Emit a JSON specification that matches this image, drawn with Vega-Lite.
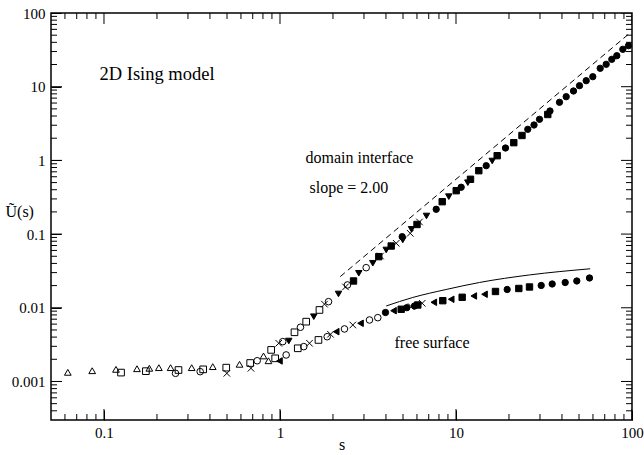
{
  "$schema": "https://vega.github.io/schema/vega-lite/v6.json",
  "width": 581,
  "height": 407,
  "autosize": {"type": "none"},
  "padding": {"left": 51, "top": 13, "right": 12, "bottom": 35},
  "background": "white",
  "config": {
    "view": {"stroke": "black", "strokeWidth": 1.5, "fill": null},
    "font": "Liberation Serif",
    "axis": {
      "zindex": 1,
      "grid": false,
      "domain": false,
      "labelFont": "Liberation Serif",
      "labelFontSize": 15,
      "labelColor": "black",
      "titleFont": "Liberation Serif",
      "titleFontWeight": "normal",
      "titleFontSize": 16,
      "titleColor": "black",
      "labelOverlap": false,
      "labelFlush": false
    }
  },
  "datasets": {
    "points": [
      {"set": "a", "s": 0.0623, "U": 0.00133}, {"set": "a", "s": 0.0857, "U": 0.0014}, {"set": "a", "s": 0.117, "U": 0.00146},
      {"set": "a", "s": 0.154, "U": 0.00149}, {"set": "a", "s": 0.181, "U": 0.00151}, {"set": "a", "s": 0.205, "U": 0.00154},
      {"set": "a", "s": 0.239, "U": 0.00154}, {"set": "a", "s": 0.315, "U": 0.00154}, {"set": "a", "s": 0.415, "U": 0.00159},
      {"set": "a", "s": 0.589, "U": 0.00171}, {"set": "a", "s": 0.806, "U": 0.00222}, {"set": "a", "s": 0.86, "U": 0.00191},

      {"set": "b", "s": 0.125, "U": 0.00132}, {"set": "b", "s": 0.173, "U": 0.00138}, {"set": "b", "s": 0.265, "U": 0.00143},
      {"set": "b", "s": 0.366, "U": 0.00146}, {"set": "b", "s": 0.495, "U": 0.00154}, {"set": "b", "s": 0.677, "U": 0.00178},
      {"set": "b", "s": 0.891, "U": 0.00268}, {"set": "b", "s": 0.939, "U": 0.00206}, {"set": "b", "s": 1.209, "U": 0.00465},
      {"set": "b", "s": 1.262, "U": 0.00282}, {"set": "b", "s": 1.409, "U": 0.00648}, {"set": "b", "s": 1.654, "U": 0.00366},
      {"set": "b", "s": 1.676, "U": 0.00934},

      {"set": "c", "s": 0.255, "U": 0.00129}, {"set": "c", "s": 0.352, "U": 0.00136}, {"set": "c", "s": 0.742, "U": 0.00191},
      {"set": "c", "s": 1.037, "U": 0.00347}, {"set": "c", "s": 1.084, "U": 0.00229}, {"set": "c", "s": 1.307, "U": 0.00544},
      {"set": "c", "s": 1.365, "U": 0.00297}, {"set": "c", "s": 1.854, "U": 0.00405}, {"set": "c", "s": 1.887, "U": 0.0121},
      {"set": "c", "s": 2.325, "U": 0.00516}, {"set": "c", "s": 2.418, "U": 0.0204}, {"set": "c", "s": 3.088, "U": 0.035},
      {"set": "c", "s": 3.225, "U": 0.00683}, {"set": "c", "s": 3.595, "U": 0.00734},

      {"set": "d", "s": 0.499, "U": 0.00129}, {"set": "d", "s": 0.684, "U": 0.00151}, {"set": "d", "s": 0.984, "U": 0.0033},
      {"set": "d", "s": 1.471, "U": 0.0033}, {"set": "d", "s": 1.79, "U": 0.0112}, {"set": "d", "s": 1.936, "U": 0.00437},
      {"set": "d", "s": 2.356, "U": 0.0192}, {"set": "d", "s": 2.593, "U": 0.00584}, {"set": "d", "s": 3.724, "U": 0.0504},
      {"set": "d", "s": 4.574, "U": 0.075}, {"set": "d", "s": 5.494, "U": 0.1025}, {"set": "d", "s": 6.203, "U": 0.146},
      {"set": "d", "s": 5.566, "U": 0.01035}, {"set": "d", "s": 6.426, "U": 0.01151},

      {"set": "e", "s": 0.993, "U": 0.0019}, {"set": "e", "s": 2.086, "U": 0.00474}, {"set": "e", "s": 2.867, "U": 0.00616},
      {"set": "e", "s": 4.415, "U": 0.00913}, {"set": "e", "s": 7.479, "U": 0.01187}, {"set": "e", "s": 9.392, "U": 0.01304},
      {"set": "e", "s": 12.62, "U": 0.01446}, {"set": "e", "s": 14.52, "U": 0.01525},

      {"set": "f", "s": 1.122, "U": 0.00354}, {"set": "f", "s": 1.556, "U": 0.00757}, {"set": "f", "s": 2.15, "U": 0.0154},
      {"set": "f", "s": 2.804, "U": 0.0294}, {"set": "f", "s": 3.368, "U": 0.0402}, {"set": "f", "s": 4.013, "U": 0.0609},
      {"set": "f", "s": 4.985, "U": 0.0832}, {"set": "f", "s": 5.588, "U": 0.116}, {"set": "f", "s": 6.797, "U": 0.176},
      {"set": "f", "s": 9.102, "U": 0.322}, {"set": "f", "s": 11.67, "U": 0.498}, {"set": "f", "s": 16.06, "U": 0.981},

      {"set": "g", "s": 2.617, "U": 0.0231}, {"set": "g", "s": 3.642, "U": 0.0494}, {"set": "g", "s": 4.284, "U": 0.0689},
      {"set": "g", "s": 6.004, "U": 0.135}, {"set": "g", "s": 8.35, "U": 0.275}, {"set": "g", "s": 10.03, "U": 0.388},
      {"set": "g", "s": 12.09, "U": 0.554}, {"set": "g", "s": 13.48, "U": 0.725}, {"set": "g", "s": 17.14, "U": 1.158},
      {"set": "g", "s": 21.3, "U": 1.739}, {"set": "g", "s": 23.71, "U": 2.177}, {"set": "g", "s": 33.23, "U": 4.196},
      {"set": "g", "s": 4.882, "U": 0.00954}, {"set": "g", "s": 6.067, "U": 0.01091}, {"set": "g", "s": 8.414, "U": 0.01248},
      {"set": "g", "s": 10.84, "U": 0.01388}, {"set": "g", "s": 16.76, "U": 0.01664}, {"set": "g", "s": 22.75, "U": 0.01827},
      {"set": "g", "s": 26.16, "U": 0.01915},

      {"set": "h", "s": 4.946, "U": 0.0922}, {"set": "h", "s": 7.718, "U": 0.217}, {"set": "h", "s": 10.7, "U": 0.432},
      {"set": "h", "s": 14.85, "U": 0.847}, {"set": "h", "s": 19.11, "U": 1.473}, {"set": "h", "s": 25.58, "U": 2.642},
      {"set": "h", "s": 27.75, "U": 3.022}, {"set": "h", "s": 29.82, "U": 3.611}, {"set": "h", "s": 34.2, "U": 4.681},
      {"set": "h", "s": 38.73, "U": 6.142}, {"set": "h", "s": 42.28, "U": 7.315}, {"set": "h", "s": 46.52, "U": 8.745},
      {"set": "h", "s": 50.31, "U": 10.32}, {"set": "h", "s": 54.93, "U": 12.06}, {"set": "h", "s": 59.88, "U": 13.67},
      {"set": "h", "s": 65.96, "U": 17.77}, {"set": "h", "s": 71.35, "U": 20.13}, {"set": "h", "s": 76.77, "U": 23.53},
      {"set": "h", "s": 81.97, "U": 26.33}, {"set": "h", "s": 88.68, "U": 32.17}, {"set": "h", "s": 95.52, "U": 36.0},
      {"set": "h", "s": 3.976, "U": 0.00863}, {"set": "h", "s": 5.255, "U": 0.01003}, {"set": "h", "s": 5.811, "U": 0.01058},
      {"set": "h", "s": 19.54, "U": 0.01771}, {"set": "h", "s": 30.49, "U": 0.02007}, {"set": "h", "s": 35.2, "U": 0.02103},
      {"set": "h", "s": 41.73, "U": 0.02204}, {"set": "h", "s": 48.58, "U": 0.0231}, {"set": "h", "s": 57.35, "U": 0.02537}
    ],
    "slope2": [
      {"s": 2.2, "U": 0.0265},
      {"s": 95, "U": 51}
    ],
    "surfaceFit": [
      {"s": 4.013, "U": 0.01058}, {"s": 5.683, "U": 0.0138}, {"s": 8.797, "U": 0.01771},
      {"s": 13.6, "U": 0.02204}, {"s": 26.16, "U": 0.0279}, {"s": 57.88, "U": 0.0338}
    ],
    "notes": [
      {"s": 0.0943, "U": 12.33, "text": "2D Ising model", "size": 18.5},
      {"s": 1.396, "U": 0.922, "text": "domain interface", "size": 16},
      {"s": 1.471, "U": 0.361, "text": "slope = 2.00", "size": 16},
      {"s": 4.473, "U": 0.002847, "text": "free surface", "size": 16}
    ],
    "sMajor": [{"s": 0.1}, {"s": 1}, {"s": 10}, {"s": 100}],
    "sMinor": [
      {"s": 0.06}, {"s": 0.07}, {"s": 0.08}, {"s": 0.09},
      {"s": 0.2}, {"s": 0.3}, {"s": 0.4}, {"s": 0.5}, {"s": 0.6}, {"s": 0.7}, {"s": 0.8}, {"s": 0.9},
      {"s": 2}, {"s": 3}, {"s": 4}, {"s": 5}, {"s": 6}, {"s": 7}, {"s": 8}, {"s": 9},
      {"s": 20}, {"s": 30}, {"s": 40}, {"s": 50}, {"s": 60}, {"s": 70}, {"s": 80}, {"s": 90}
    ],
    "uMajor": [{"U": 0.001}, {"U": 0.01}, {"U": 0.1}, {"U": 1}, {"U": 10}, {"U": 100}],
    "uMinor": [
      {"U": 0.0004}, {"U": 0.0005}, {"U": 0.0006}, {"U": 0.0007}, {"U": 0.0008}, {"U": 0.0009},
      {"U": 0.002}, {"U": 0.003}, {"U": 0.004}, {"U": 0.005}, {"U": 0.006}, {"U": 0.007}, {"U": 0.008}, {"U": 0.009},
      {"U": 0.02}, {"U": 0.03}, {"U": 0.04}, {"U": 0.05}, {"U": 0.06}, {"U": 0.07}, {"U": 0.08}, {"U": 0.09},
      {"U": 0.2}, {"U": 0.3}, {"U": 0.4}, {"U": 0.5}, {"U": 0.6}, {"U": 0.7}, {"U": 0.8}, {"U": 0.9},
      {"U": 2}, {"U": 3}, {"U": 4}, {"U": 5}, {"U": 6}, {"U": 7}, {"U": 8}, {"U": 9},
      {"U": 20}, {"U": 30}, {"U": 40}, {"U": 50}, {"U": 60}, {"U": 70}, {"U": 80}, {"U": 90}
    ]
  },
  "layer": [
    {
      "description": "dashed s^2 guide",
      "data": {"name": "slope2"},
      "mark": {"type": "line", "color": "black", "strokeWidth": 1, "strokeDash": [6, 4]},
      "encoding": {
        "x": {"field": "s", "type": "quantitative", "scale": {"type": "log", "domain": [0.05, 100], "nice": false}, "axis": null},
        "y": {"field": "U", "type": "quantitative", "scale": {"type": "log", "domain": [0.0003, 100], "nice": false}, "axis": null}
      }
    },
    {
      "description": "free-surface curve",
      "data": {"name": "surfaceFit"},
      "mark": {"type": "line", "color": "black", "strokeWidth": 1, "interpolate": "monotone"},
      "encoding": {
        "x": {"field": "s", "type": "quantitative", "scale": {"type": "log", "domain": [0.05, 100], "nice": false}, "axis": null},
        "y": {"field": "U", "type": "quantitative", "scale": {"type": "log", "domain": [0.0003, 100], "nice": false}, "axis": null}
      }
    },
    {
      "description": "simulation data; carries the labelled bottom and left axes",
      "data": {"name": "points"},
      "mark": {"type": "point", "opacity": 1, "strokeWidth": 1, "stroke": "black"},
      "encoding": {
        "x": {
          "field": "s", "type": "quantitative",
          "scale": {"type": "log", "domain": [0.05, 100], "nice": false},
          "axis": {
            "orient": "bottom", "ticks": true, "tickColor": "black", "tickWidth": 1, "title": "s", "format": "~g", "offset": -10, "tickSize": 10, "labelPadding": 5,
            "values": [0.1, 1, 10, 100],
            "titleX": 290.5, "titleY": 39, "titleAlign": "center", "titleBaseline": "alphabetic"
          }
        },
        "y": {
          "field": "U", "type": "quantitative",
          "scale": {"type": "log", "domain": [0.0003, 100], "nice": false},
          "axis": {
            "orient": "left", "ticks": true, "tickColor": "black", "tickWidth": 1, "title": "Ũ(s)", "format": "~g", "offset": -10, "tickSize": 10, "labelPadding": 6,
            "values": [0.001, 0.01, 0.1, 1, 10, 100],
            "titleAngle": 0, "titleAlign": "left", "titleBaseline": "alphabetic",
            "titleX": -56, "titleY": 203
          }
        },
        "shape": {
          "field": "set", "type": "nominal", "legend": null,
          "scale": {
            "domain": ["a", "b", "c", "d", "e", "f", "g", "h"],
            "range": ["triangle-up", "square", "circle", "M-1,-1L1,1M1,-1L-1,1", "triangle-left", "triangle-down", "square", "circle"]
          }
        },
        "fill": {
          "field": "set", "type": "nominal", "legend": null,
          "scale": {
            "domain": ["a", "b", "c", "d", "e", "f", "g", "h"],
            "range": ["transparent", "transparent", "transparent", "transparent", "black", "black", "black", "black"]
          }
        },
        "size": {
          "field": "set", "type": "nominal", "legend": null,
          "scale": {
            "domain": ["a", "b", "c", "d", "e", "f", "g", "h"],
            "range": [45, 40, 50, 80, 50, 50, 36, 50]
          }
        }
      }
    },
    {
      "description": "annotations",
      "data": {"name": "notes"},
      "mark": {"type": "text", "align": "left", "baseline": "alphabetic", "font": "Liberation Serif", "color": "black"},
      "encoding": {
        "x": {"field": "s", "type": "quantitative", "scale": {"type": "log", "domain": [0.05, 100], "nice": false}, "axis": null},
        "y": {"field": "U", "type": "quantitative", "scale": {"type": "log", "domain": [0.0003, 100], "nice": false}, "axis": null},
        "text": {"field": "text"},
        "size": {"field": "size", "type": "quantitative", "scale": null, "legend": null}
      }
    },
    {
      "description": "major s ticks on the bottom edge; clipping keeps only the inward half",
      "data": {"name": "sMajor"},
      "mark": {"type": "tick", "orient": "vertical", "size": 22, "thickness": 1, "color": "black", "opacity": 1, "clip": true},
      "encoding": {
        "x": {"field": "s", "type": "quantitative", "scale": {"type": "log", "domain": [0.05, 100], "nice": false}, "axis": null},
        "y": {"datum": 0.0003, "type": "quantitative", "scale": {"type": "log", "domain": [0.0003, 100], "nice": false}, "axis": null}
      }
    },
    {
      "description": "major s ticks on the top edge",
      "data": {"name": "sMajor"},
      "mark": {"type": "tick", "orient": "vertical", "size": 22, "thickness": 1, "color": "black", "opacity": 1, "clip": true},
      "encoding": {
        "x": {"field": "s", "type": "quantitative", "scale": {"type": "log", "domain": [0.05, 100], "nice": false}, "axis": null},
        "y": {"datum": 100, "type": "quantitative", "scale": {"type": "log", "domain": [0.0003, 100], "nice": false}, "axis": null}
      }
    },
    {
      "description": "minor s ticks on the bottom edge",
      "data": {"name": "sMinor"},
      "mark": {"type": "tick", "orient": "vertical", "size": 12, "thickness": 1, "color": "black", "opacity": 1, "clip": true},
      "encoding": {
        "x": {"field": "s", "type": "quantitative", "scale": {"type": "log", "domain": [0.05, 100], "nice": false}, "axis": null},
        "y": {"datum": 0.0003, "type": "quantitative", "scale": {"type": "log", "domain": [0.0003, 100], "nice": false}, "axis": null}
      }
    },
    {
      "description": "minor s ticks on the top edge",
      "data": {"name": "sMinor"},
      "mark": {"type": "tick", "orient": "vertical", "size": 12, "thickness": 1, "color": "black", "opacity": 1, "clip": true},
      "encoding": {
        "x": {"field": "s", "type": "quantitative", "scale": {"type": "log", "domain": [0.05, 100], "nice": false}, "axis": null},
        "y": {"datum": 100, "type": "quantitative", "scale": {"type": "log", "domain": [0.0003, 100], "nice": false}, "axis": null}
      }
    },
    {
      "description": "major U ticks on the left edge",
      "data": {"name": "uMajor"},
      "mark": {"type": "tick", "orient": "horizontal", "size": 22, "thickness": 1, "color": "black", "opacity": 1, "clip": true},
      "encoding": {
        "x": {"datum": 0.05, "type": "quantitative", "scale": {"type": "log", "domain": [0.05, 100], "nice": false}, "axis": null},
        "y": {"field": "U", "type": "quantitative", "scale": {"type": "log", "domain": [0.0003, 100], "nice": false}, "axis": null}
      }
    },
    {
      "description": "major U ticks on the right edge",
      "data": {"name": "uMajor"},
      "mark": {"type": "tick", "orient": "horizontal", "size": 22, "thickness": 1, "color": "black", "opacity": 1, "clip": true},
      "encoding": {
        "x": {"datum": 100, "type": "quantitative", "scale": {"type": "log", "domain": [0.05, 100], "nice": false}, "axis": null},
        "y": {"field": "U", "type": "quantitative", "scale": {"type": "log", "domain": [0.0003, 100], "nice": false}, "axis": null}
      }
    },
    {
      "description": "minor U ticks on the left edge",
      "data": {"name": "uMinor"},
      "mark": {"type": "tick", "orient": "horizontal", "size": 12, "thickness": 1, "color": "black", "opacity": 1, "clip": true},
      "encoding": {
        "x": {"datum": 0.05, "type": "quantitative", "scale": {"type": "log", "domain": [0.05, 100], "nice": false}, "axis": null},
        "y": {"field": "U", "type": "quantitative", "scale": {"type": "log", "domain": [0.0003, 100], "nice": false}, "axis": null}
      }
    },
    {
      "description": "minor U ticks on the right edge",
      "data": {"name": "uMinor"},
      "mark": {"type": "tick", "orient": "horizontal", "size": 12, "thickness": 1, "color": "black", "opacity": 1, "clip": true},
      "encoding": {
        "x": {"datum": 100, "type": "quantitative", "scale": {"type": "log", "domain": [0.05, 100], "nice": false}, "axis": null},
        "y": {"field": "U", "type": "quantitative", "scale": {"type": "log", "domain": [0.0003, 100], "nice": false}, "axis": null}
      }
    }
  ],
  "resolve": {"axis": {"x": "independent", "y": "independent"}}
}
